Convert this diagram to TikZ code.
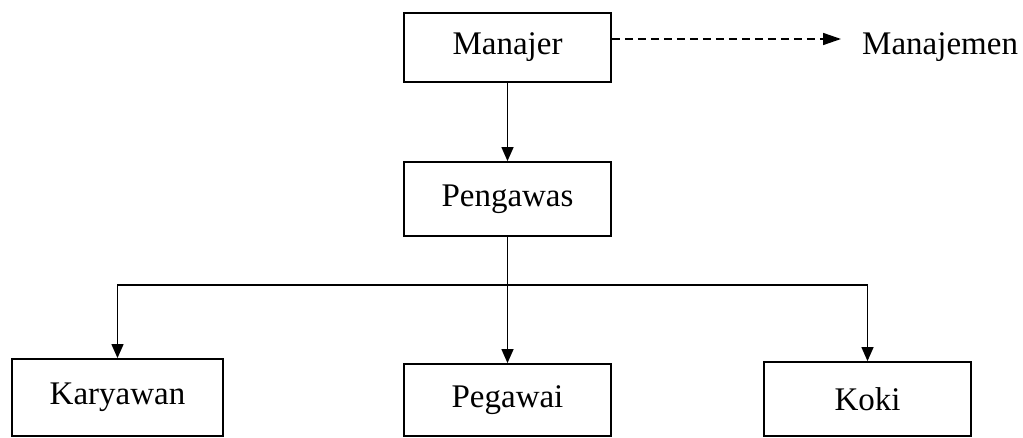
\documentclass[tikz,border=0pt]{standalone}
\usepackage{fontspec}
\setmainfont{Liberation Serif}
\usetikzlibrary{arrows.meta}
\begin{document}
\begin{tikzpicture}[x=1pt,y=1pt,
  orgbox/.style={draw, line width=1.8pt, minimum width=207pt, inner sep=0pt,
    font=\fontsize{33}{40}\selectfont},
  conn/.style={line width=1.3pt, -{Triangle[length=14pt,width=12pt]}},
  dconn/.style={line width=1.5pt, dash pattern=on 8pt off 5pt, -{Triangle[length=18pt,width=12pt]}},
  label/.style={inner sep=0pt, font=\fontsize{33}{40}\selectfont}]
\useasboundingbox (0,0) rectangle (1023,-438);
\node[orgbox, minimum height=69pt] (man) at (507.5,-47.5) {Manajer};
\node[orgbox, minimum height=74pt] (peng) at (507.5,-199) {Pengawas};
\node[orgbox, minimum width=211pt, minimum height=77pt] (kary) at (117.5,-397.5) {Karyawan};
\node[orgbox, minimum height=72pt] (peg) at (507.5,-400) {Pegawai};
\node[orgbox, minimum height=74pt] (koki) at (867.5,-399) {Koki};
\node[label, anchor=base west] (mgmt) at (862,-55) {Manajemen};
\coordinate (mtip) at (841,-39);
\coordinate (junc) at (507.5,-285);
\draw[conn] (man.south) -- (peng.north);
\draw[line width=1.3pt] (peng.south) -- (junc);
\draw[conn] (junc) -- (peg.north);
\draw[conn] (junc) -| (kary.north);
\draw[conn] (junc) -| (koki.north);
\draw[dconn] (man.east |- mtip) -- (mtip);
\end{tikzpicture}
\end{document}
